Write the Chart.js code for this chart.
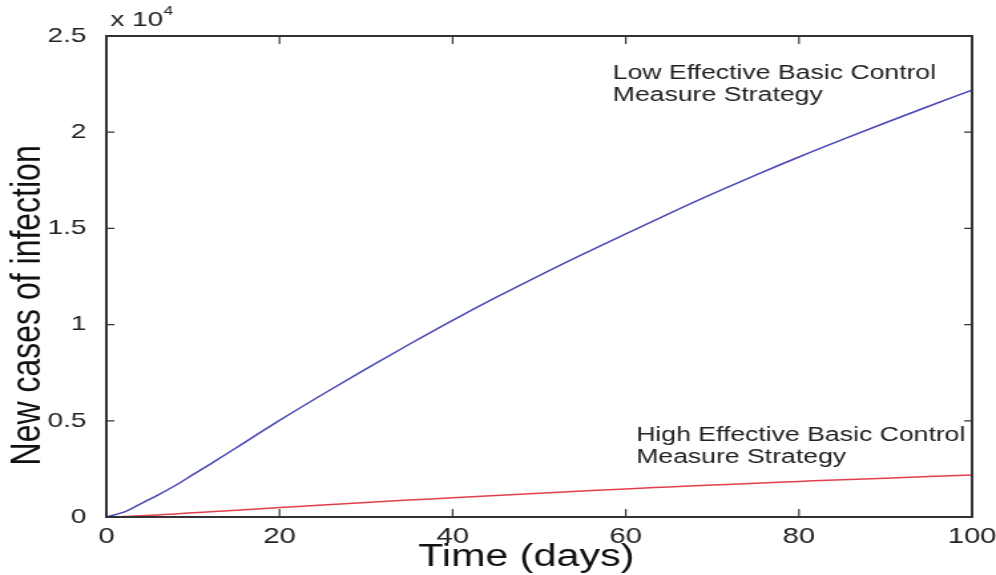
<!DOCTYPE html>
<html>
<head>
<meta charset="utf-8">
<script src="https://cdn.jsdelivr.net/npm/chart.js@4.4.0/dist/chart.umd.min.js"></script>
<style>
  html, body { margin: 0; padding: 0; background: #fff; }
</style>
</head>
<body>
<!-- the original figure is stretched sideways, so draw narrow and widen with css -->
<canvas id="myChart" width="749" height="575" style="width:996px;height:575px"></canvas>
<script>
// data (new cases, time in days)
const days = [0, 2, 4, 6, 8, 10, 12, 15, 20, 25, 30, 35, 40, 45, 50, 55, 60, 65, 70, 75, 80, 85, 90, 95, 100];
const lowEffective = [0, 250, 700, 1150, 1650, 2200, 2750, 3600, 5020, 6380, 7700, 8980, 10220, 11410, 12550, 13650, 14720, 15770, 16790, 17770, 18710, 19610, 20490, 21350, 22190];
const highEffective = [0, 20, 60, 110, 160, 220, 270, 350, 490, 630, 760, 880, 1000, 1120, 1240, 1350, 1460, 1560, 1660, 1760, 1850, 1940, 2020, 2100, 2180];
const xTicks = [0, 20, 40, 60, 80, 100];
const yTicks = [0, 5000, 10000, 15000, 20000, 25000];

const toPoints = (xs, ys) => xs.map((x, i) => ({ x: x, y: ys[i] }));
const FONT = '"Liberation Sans", Arial, sans-serif';

// matlab style box with inward ticks, axis titles and the text notes
const boxPlugin = {
  id: 'boxPlugin',
  afterDraw(chart) {
    const ctx = chart.ctx;
    const a = chart.chartArea;
    const xs = chart.scales.x;
    const ys = chart.scales.y;
    ctx.save();
    ctx.strokeStyle = '#333';
    ctx.lineWidth = 2;
    ctx.strokeRect(a.left, a.top, a.right - a.left, a.bottom - a.top);
    ctx.lineWidth = 1.2;
    ctx.beginPath();
    for (const v of xTicks) {
      const px = xs.getPixelForValue(v);
      ctx.moveTo(px, a.bottom); ctx.lineTo(px, a.bottom - 8);
      ctx.moveTo(px, a.top); ctx.lineTo(px, a.top + 8);
    }
    for (const v of yTicks) {
      const py = ys.getPixelForValue(v);
      ctx.moveTo(a.left, py); ctx.lineTo(a.left + 6, py);
      ctx.moveTo(a.right, py); ctx.lineTo(a.right - 6, py);
    }
    ctx.stroke();

    ctx.fillStyle = '#222';
    ctx.textBaseline = 'alphabetic';
    ctx.font = '21px ' + FONT;
    ctx.fillText('x 10', a.left + 3, a.top - 10);
    ctx.font = '13px ' + FONT;
    ctx.fillText('4', a.left + 43, a.top - 21);

    ctx.font = '20px ' + FONT;
    let px = xs.getPixelForValue(58.5);
    let py = ys.getPixelForValue(22750);
    ctx.fillText('Low Effective Basic Control', px, py);
    ctx.fillText('Measure Strategy', px, py + 22);
    px = xs.getPixelForValue(61.2);
    py = ys.getPixelForValue(3950);
    ctx.fillText('High Effective Basic Control', px, py);
    ctx.fillText('Measure Strategy', px, py + 22);

    // axis titles
    ctx.fillStyle = '#111';
    ctx.font = '31px ' + FONT;
    ctx.textAlign = 'center';
    ctx.fillText('Time (days)', xs.getPixelForValue(48.5), 566);
    ctx.translate(21, ys.getPixelForValue(11000));
    ctx.rotate(-Math.PI / 2);
    ctx.font = '32px ' + FONT;
    ctx.textBaseline = 'middle';
    ctx.fillText('New cases of infection', 0, 0);
    ctx.restore();
  }
};

const ctx = document.getElementById('myChart');

new Chart(ctx, {
  type: 'line',
  data: {
    datasets: [{
      label: 'Low Effective Basic Control Measure Strategy',
      data: toPoints(days, lowEffective),
      borderColor: '#4646b4',
      borderWidth: 1.5,
      pointRadius: 0,
      cubicInterpolationMode: 'monotone'
    }, {
      label: 'High Effective Basic Control Measure Strategy',
      data: toPoints(days, highEffective),
      borderColor: '#e0404a',
      borderWidth: 1.5,
      pointRadius: 0,
      cubicInterpolationMode: 'monotone'
    }]
  },
  options: {
    responsive: false,
    animation: false,
    devicePixelRatio: 1,
    layout: { padding: { top: 36, right: 18, left: 0, bottom: 0 } },
    plugins: {
      legend: { display: false },
      tooltip: { enabled: false }
    },
    scales: {
      x: {
        type: 'linear',
        min: 0,
        max: 100,
        afterFit: (s) => { s.height = 58; s.paddingLeft = 0; s.paddingRight = 0; },
        afterBuildTicks: (s) => { s.ticks = xTicks.map(v => ({ value: v })); },
        grid: { display: false },
        border: { display: false },
        ticks: {
          color: '#222',
          padding: -1,
          maxRotation: 0,
          font: { size: 22, family: FONT }
        }
      },
      y: {
        min: 0,
        max: 25000,
        afterFit: (s) => { s.width = 80; s.paddingTop = 0; s.paddingBottom = 0; },
        afterBuildTicks: (s) => { s.ticks = yTicks.map(v => ({ value: v })); },
        grid: { display: false },
        border: { display: false },
        ticks: {
          color: '#222',
          padding: 7,
          font: { size: 21, family: FONT },
          callback: (v) => String(v / 10000)
        }
      }
    }
  },
  plugins: [boxPlugin]
});
</script>
</body>
</html>
